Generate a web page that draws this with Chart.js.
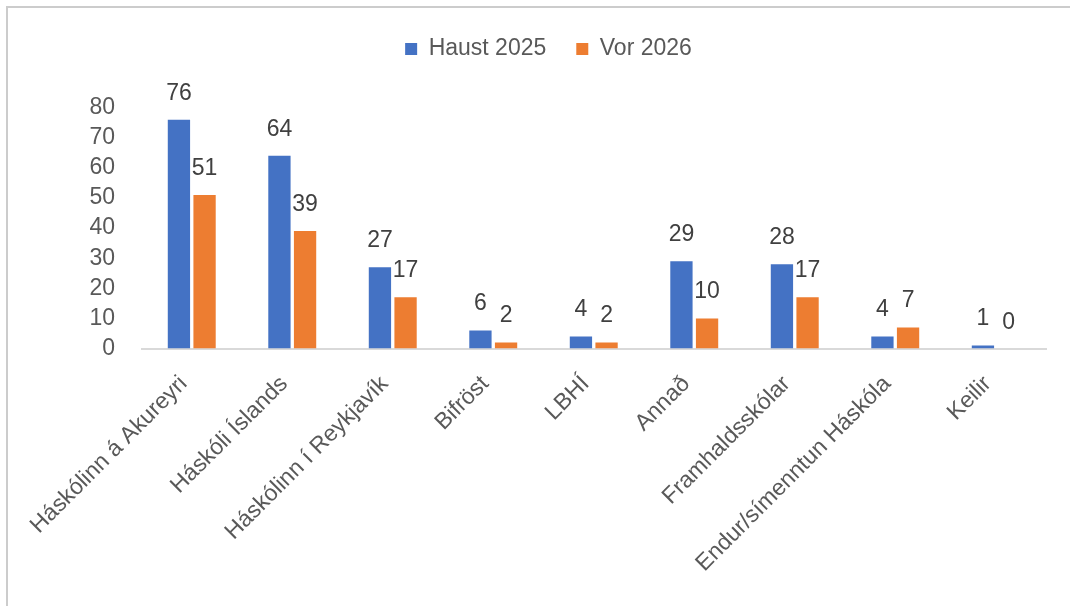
<!DOCTYPE html>
<html>
<head>
<meta charset="utf-8">
<script src="https://cdn.jsdelivr.net/npm/chart.js"></script>
<style>
    body { margin: 0; background: #fff; overflow: hidden; }
    #frame { position: absolute; left: 6px; top: 6px; width: 1100px; height: 700px; border-left: 2px solid #cccccc; border-top: 2px solid #cccccc; }
    #chart { position: absolute; left: 0; top: 0; }
</style>
</head>
<body>
<div id="frame"></div>
<canvas id="chart" width="1070" height="606"></canvas>
<script>
// data \/
const categories = ["Háskólinn á Akureyri", "Háskóli Íslands", "Háskólinn í Reykjavík", "Bifröst", "LBHÍ", "Annað", "Framhaldsskólar", "Endur/símenntun Háskóla", "Keilir"];
const seriesNames = ["Haust 2025", "Vor 2026"];
const haust2025 = [76, 64, 27, 6, 4, 29, 28, 4, 1];
const vor2026 = [51, 39, 17, 2, 2, 10, 17, 7, 0];
const yTicks = [0, 10, 20, 30, 40, 50, 60, 70, 80];
// data /\

// draws the numbers above the bars \/
const valueLabels = {
    id: "valueLabels",
    afterDatasetsDraw(chart) {
        const ctx = chart.ctx;
        ctx.save();
        ctx.font = "23px 'Liberation Sans', Arial, sans-serif";
        ctx.fillStyle = "#404040";
        ctx.textAlign = "center";
        ctx.textBaseline = "alphabetic";
        chart.data.datasets.forEach((ds, i) => {
            chart.getDatasetMeta(i).data.forEach((bar, j) => {
                ctx.fillText(ds.data[j], bar.x, bar.y - 20);
            });
        });
        ctx.restore();
    }
};
// draws the numbers above the bars /\

// chart \/
Chart.defaults.font.family = "'Liberation Sans', Arial, sans-serif";
Chart.defaults.color = "#595959";

const chartCanvas = document.getElementById("chart");

new Chart(chartCanvas, {
    type: 'bar',
    data: {
        labels: categories,
        datasets: [{
            label: seriesNames[0],
            data: haust2025,
            backgroundColor: '#4472C4',
            categoryPercentage: 0.51,
            barPercentage: 0.87
        }, {
            label: seriesNames[1],
            data: vor2026,
            backgroundColor: '#ED7D31',
            categoryPercentage: 0.51,
            barPercentage: 0.87
        }]
    },
    options: {
        responsive: false,
        animation: false,
        layout: {
            padding: { top: 7.5, left: 51, right: 24, bottom: 0 }
        },
        plugins: {
            legend: {
                position: 'top',
                labels: {
                    boxWidth: 12,
                    boxHeight: 12,
                    padding: 30,
                    color: '#595959',
                    font: { size: 23 }
                }
            },
            // empty line used as a gap under the legend
            subtitle: {
                display: true,
                text: ' ',
                weight: 500,
                font: { size: 10 },
                padding: { top: 25.2, bottom: 0 }
            },
            tooltip: { enabled: false }
        },
        scales: {
            x: {
                grid: { display: false, drawTicks: false },
                border: { display: true, color: '#d9d9d9', width: 2 },
                ticks: {
                    autoSkip: false,
                    minRotation: 45,
                    maxRotation: 45,
                    padding: 22,
                    labelOffset: -8,
                    color: '#595959',
                    font: { size: 23 }
                },
                afterFit: s => {
                    s.height = 257.5;
                    s.paddingLeft = 0;
                    s.paddingRight = 0;
                }
            },
            y: {
                min: yTicks[0],
                max: yTicks[yTicks.length - 1],
                grid: { display: false, drawTicks: false },
                border: { display: false },
                ticks: {
                    autoSkip: false,
                    stepSize: yTicks[1] - yTicks[0],
                    padding: 26.5,
                    color: '#595959',
                    font: { size: 23 }
                },
                afterFit: s => {
                    s.width = 90.5;
                }
            }
        }
    },
    plugins: [valueLabels]
});
// chart /\
</script>
</body>
</html>
